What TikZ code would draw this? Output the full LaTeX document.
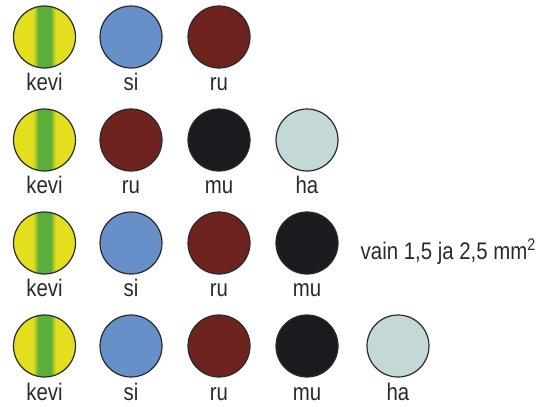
\documentclass[tikz,border=0pt]{standalone}
\usepackage{fontspec}
\setmainfont{Liberation Sans}[FakeStretch=0.85]

\definecolor{keltainen}{HTML}{E3DF1E}
\definecolor{vihrea}{HTML}{5BAE3A}
\definecolor{sininen}{HTML}{6790C8}
\definecolor{ruskea}{HTML}{6E231F}
\definecolor{musta}{HTML}{1C1A1E}
\definecolor{harmaa}{HTML}{C5D8D8}
\definecolor{reuna}{HTML}{2A2A2A}
\definecolor{teksti}{HTML}{2A2A2A}

\pgfdeclarehorizontalshading{kevivari}{100bp}{color(0bp)=(keltainen); color(41bp)=(keltainen); color(45bp)=(vihrea); color(55bp)=(vihrea); color(59bp)=(keltainen); color(100bp)=(keltainen)}

\begin{document}
\begin{tikzpicture}[x=0.75pt,y=-0.75pt]

\tikzset{johdin/.style={draw=reuna,circle,line width=0.9pt,minimum size=46.5pt,inner sep=0pt}}
\tikzset{kevi/.style={johdin,shading=kevivari}}
\tikzset{si/.style={johdin,fill=sininen}}
\tikzset{ru/.style={johdin,fill=ruskea}}
\tikzset{mu/.style={johdin,fill=musta}}
\tikzset{ha/.style={johdin,fill=harmaa}}
\tikzset{nimi/.style={anchor=base,text=teksti,font=\fontsize{18}{20}\selectfont}}

\useasboundingbox (0,0) rectangle (547,407);

% rivi 1
\node[kevi] (k1) at (44.5,37) {};
\node[si] (s1) at (131,37) {};
\node[ru] (r1) at (219,37) {};
\node[nimi] (k1t) at (44.5,90) {kevi};
\node[nimi] (s1t) at (131,90) {si};
\node[nimi] (r1t) at (219,90) {ru};

% rivi 2
\node[kevi] (k2) at (44.5,140) {};
\node[ru] (r2) at (131,140) {};
\node[mu] (m2) at (219,140) {};
\node[ha] (h2) at (307,140) {};
\node[nimi] (k2t) at (44.5,193.5) {kevi};
\node[nimi] (r2t) at (131,193.5) {ru};
\node[nimi] (m2t) at (219,193.5) {mu};
\node[nimi] (h2t) at (307,193.5) {ha};

% rivi 3
\node[kevi] (k3) at (44.5,243) {};
\node[si] (s3) at (131,243) {};
\node[ru] (r3) at (219,243) {};
\node[mu] (m3) at (307,243) {};
\node[nimi] (k3t) at (44.5,296.5) {kevi};
\node[nimi] (s3t) at (131,296.5) {si};
\node[nimi] (r3t) at (219,296.5) {ru};
\node[nimi] (m3t) at (307,296.5) {mu};
\node[nimi,anchor=base west] (huom) at (356,259) {vain 1,5 ja 2,5 mm\textsuperscript{2}};

% rivi 4
\node[kevi] (k4) at (44.5,346) {};
\node[si] (s4) at (131,346) {};
\node[ru] (r4) at (219,346) {};
\node[mu] (m4) at (307,346) {};
\node[ha] (h4) at (398,346) {};
\node[nimi] (k4t) at (44.5,400) {kevi};
\node[nimi] (s4t) at (131,400) {si};
\node[nimi] (r4t) at (219,400) {ru};
\node[nimi] (m4t) at (307,400) {mu};
\node[nimi] (h4t) at (398,400) {ha};

\end{tikzpicture}
\end{document}
